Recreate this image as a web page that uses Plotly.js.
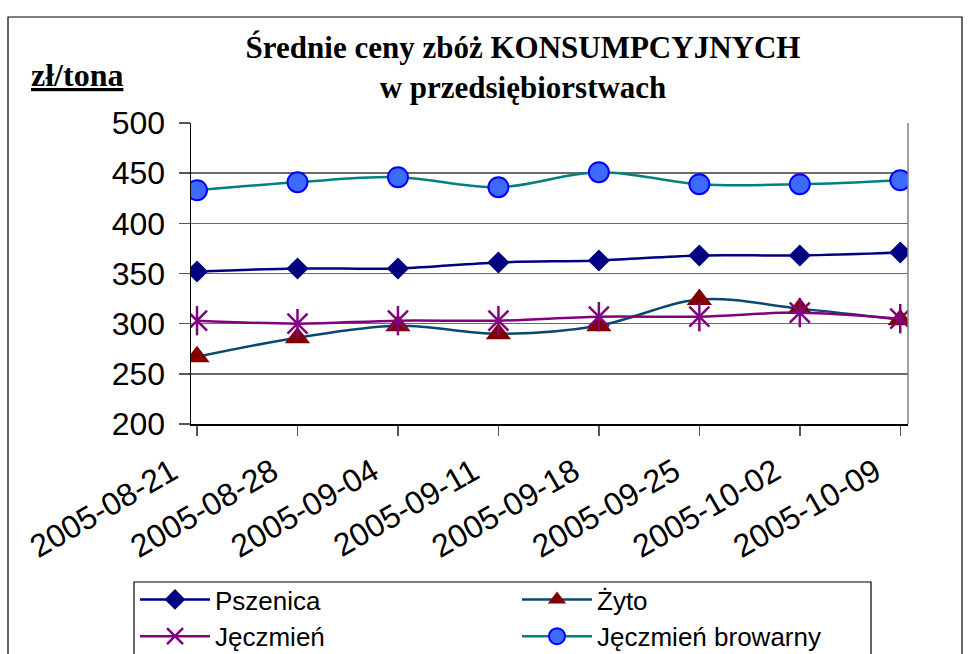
<!DOCTYPE html>
<html>
<head>
<meta charset="utf-8">
<script src="https://cdn.plot.ly/plotly-3.0.1.min.js"></script>
<style>html,body{margin:0;padding:0;background:#fff;}#chart{width:971px;height:654px;}</style>
</head>
<body>
<div id="chart"></div>
<script>
const categories = ['2005-08-21','2005-08-28','2005-09-04','2005-09-11','2005-09-18','2005-09-25','2005-10-02','2005-10-09'];
const pszenica = [352, 355, 355, 361, 363, 368, 368, 371];
const zyto = [267, 286, 298, 290, 298, 324, 315, 304];
const jeczmien = [303, 300, 303, 303, 307, 307, 311, 305];
const browarny = [433, 441, 446, 436, 451, 439, 439, 443];
const seriesNames = ['Pszenica', 'Żyto', 'Jęczmień', 'Jęczmień browarny'];
const yTicks = [200, 250, 300, 350, 400, 450, 500];

const W = 971, H = 654, L = 191, R = 908, T = 123, B = 424;
const px = x => (x - L) / (R - L);
const py = y => (B - y) / (B - T);

const traces = [
  {x: categories, y: pszenica, name: seriesNames[0], type: 'scatter', mode: 'lines+markers',
   line: {color: '#000080', width: 2.5, shape: 'spline', smoothing: 1},
   marker: {symbol: 'diamond', size: 17, color: '#000080', line: {width: 0}}},
  {x: categories, y: zyto, name: seriesNames[1], type: 'scatter', mode: 'lines+markers',
   line: {color: '#0B4870', width: 2.5, shape: 'spline', smoothing: 1},
   marker: {symbol: 'triangle-up', size: 22, color: '#800000', line: {width: 0}}},
  {x: categories, y: jeczmien, name: seriesNames[2], type: 'scatter', mode: 'lines+markers', legendgroup: 'j',
   line: {color: '#800080', width: 2.5, shape: 'spline', smoothing: 1},
   marker: {symbol: 'x-thin-open', size: 20, color: '#800080', line: {width: 2.5, color: '#800080'}}},
  {x: categories, y: jeczmien, name: seriesNames[2], type: 'scatter', mode: 'markers', legendgroup: 'j', showlegend: false,
   marker: {symbol: 'line-ns-open', size: 21, color: '#800080', line: {width: 2.5, color: '#800080'}}},
  {x: categories, y: browarny, name: seriesNames[3], type: 'scatter', mode: 'lines+markers',
   line: {color: '#008080', width: 2.5, shape: 'spline', smoothing: 1},
   marker: {symbol: 'circle', size: 20, color: '#3D6BFF', line: {width: 2, color: '#0000FF'}}}
];

const layout = {
  width: W, height: H,
  margin: {l: L, r: W - R, t: T, b: H - B, pad: 0, autoexpand: false},
  paper_bgcolor: '#ffffff', plot_bgcolor: '#ffffff',
  font: {family: 'Liberation Sans, Arial, sans-serif', color: '#000'},
  title: {
    text: '<b>Średnie ceny zbóż KONSUMPCYJNYCH<br>w przedsiębiorstwach</b>',
    font: {family: 'Liberation Serif, Times New Roman, serif', size: 31, color: '#000'},
    xref: 'container', yref: 'container', x: 523 / W, xanchor: 'center', y: 1 - 58 / H, yanchor: 'top'
  },
  xaxis: {
    type: 'category', range: [-0.06, 7.077], automargin: false,
    showline: true, linecolor: '#000', linewidth: 1.5,
    ticks: 'outside', ticklen: 10, tickcolor: '#555', tickwidth: 1.5,
    tickangle: -30, tickfont: {size: 32, family: 'Liberation Sans, Arial, sans-serif'},
    ticklabelshift: -25, ticklabelstandoff: 5,
    showgrid: false, zeroline: false, fixedrange: true
  },
  yaxis: {
    range: [200, 500], tickvals: yTicks, ticktext: yTicks.map(String), automargin: false,
    showline: true, linecolor: '#000', linewidth: 1.5,
    ticks: 'outside', ticklen: 11, tickcolor: '#555', tickwidth: 1.5,
    tickfont: {size: 32, family: 'Liberation Sans, Arial, sans-serif'},
    ticklabelstandoff: 7,
    showgrid: true, gridcolor: '#6a6a6a', gridwidth: 1.5, zeroline: false, fixedrange: true
  },
  showlegend: true,
  legend: {
    orientation: 'h', x: px(135), xanchor: 'left', y: py(576), yanchor: 'top',
    entrywidth: 297, entrywidthmode: 'pixels', itemwidth: 70,
    font: {size: 26, family: 'Liberation Sans, Arial, sans-serif', color: '#000'},
    bgcolor: 'rgba(0,0,0,0)', borderwidth: 0, tracegroupgap: 0, traceorder: 'normal'
  },
  annotations: [
    {text: '<b><u>zł/tona</u></b>', xref: 'paper', yref: 'paper', x: px(77), y: py(75),
     xanchor: 'center', yanchor: 'middle', showarrow: false,
     font: {family: 'Liberation Serif, Times New Roman, serif', size: 32, color: '#000'}}
  ],
  shapes: [
    {type: 'rect', xref: 'paper', yref: 'paper', x0: px(8), x1: px(962), y0: py(17), y1: py(670),
     line: {color: '#000', width: 1.2}, fillcolor: 'rgba(0,0,0,0)', layer: 'below'},
    {type: 'rect', xref: 'paper', yref: 'paper', x0: px(134), x1: px(871), y0: py(582), y1: py(670),
     line: {color: '#000', width: 1.2}, fillcolor: 'rgba(0,0,0,0)', layer: 'below'},
    {type: 'line', xref: 'paper', yref: 'paper', x0: 1, x1: 1, y0: 0, y1: 1,
     line: {color: '#808080', width: 1.5}}
  ]
};

Plotly.newPlot('chart', traces, layout, {displayModeBar: false, staticPlot: true});
</script>
</body>
</html>
